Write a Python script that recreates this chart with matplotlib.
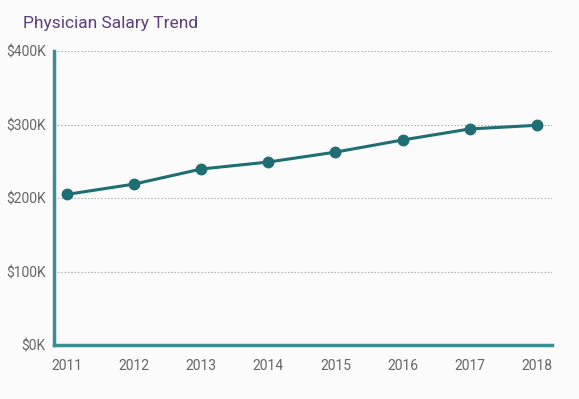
import matplotlib.pyplot as plt
from matplotlib.ticker import FuncFormatter

years = [2011, 2012, 2013, 2014, 2015, 2016, 2017, 2018]
salary = [205000, 219000, 239500, 249000, 262500, 279000, 294000, 299000]
yticks = [0, 100000, 200000, 300000, 400000]

plt.rcParams['font.family'] = ['Roboto', 'DejaVu Sans']

fig = plt.figure(figsize=(5.79, 3.99), dpi=100, facecolor='#fbfbfc')
ax = fig.add_axes([0.0933, 0.1353, 0.8597, 0.7367])
ax.set_facecolor('#fbfbfc')

ax.plot(years, salary, color='#1f6e74', lw=2.2, marker='o', ms=7.5, zorder=3)

ax.set_xlim(2010.806, 2018.223)
ax.set_ylim(0, 400000)
ax.set_xticks(years)
ax.set_yticks(yticks)
ax.yaxis.set_major_formatter(FuncFormatter(lambda v, p: f"${int(v / 1000)}K"))
ax.grid(axis='y', color='#b5b5b5', ls=(0, (1.5, 1.5)), lw=0.8)
ax.set_axisbelow(True)

for s in ['top', 'right']:
    ax.spines[s].set_visible(False)
for s in ['left', 'bottom']:
    ax.spines[s].set_color('#3a8f94')
    ax.spines[s].set_linewidth(2.5)

ax.tick_params(length=0, colors='#666666', labelsize=10)
ax.tick_params(axis='x', pad=10)
ax.tick_params(axis='y', pad=6)

fig.text(0.04, 0.93, "Physician Salary Trend", color='#5b3f78', fontsize=12.5)

plt.savefig('out.png', dpi=100, facecolor=fig.get_facecolor())
